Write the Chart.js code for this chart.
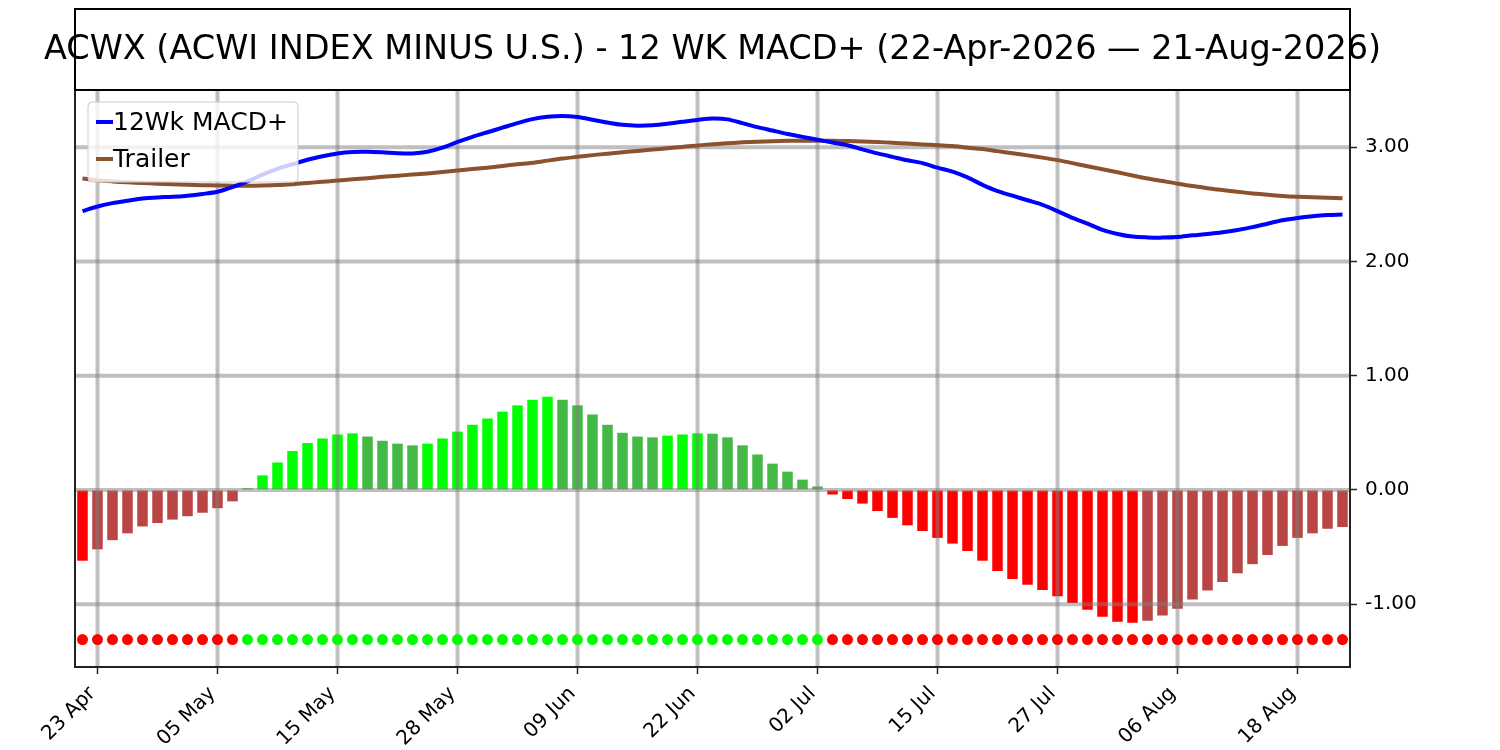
<!DOCTYPE html>
<html>
<head>
<meta charset="utf-8">
<script src="https://cdn.jsdelivr.net/npm/chart.js@4.4.1/dist/chart.umd.min.js"></script>
<style>
  body { margin: 0; background: #fff; }
  #wrap { width: 1500px; height: 750px; }
</style>
</head>
<body>
<div id="wrap"><canvas id="macd-chart" width="1500" height="750"></canvas></div>
<script>
// trading days shown on the chart
const DATES = [
    '22 Apr', '23 Apr', '24 Apr', '27 Apr', '28 Apr', '29 Apr', '30 Apr',
    '01 May', '04 May', '05 May', '06 May', '07 May', '08 May', '11 May', '12 May', '13 May', '14 May', '15 May',
    '18 May', '19 May', '20 May', '21 May', '22 May', '26 May', '27 May', '28 May', '29 May',
    '01 Jun', '02 Jun', '03 Jun', '04 Jun', '05 Jun', '08 Jun', '09 Jun', '10 Jun', '11 Jun', '12 Jun',
    '15 Jun', '16 Jun', '17 Jun', '18 Jun', '22 Jun', '23 Jun', '24 Jun', '25 Jun', '26 Jun', '29 Jun', '30 Jun',
    '01 Jul', '02 Jul', '06 Jul', '07 Jul', '08 Jul', '09 Jul', '10 Jul', '13 Jul', '14 Jul', '15 Jul',
    '16 Jul', '17 Jul', '20 Jul', '21 Jul', '22 Jul', '23 Jul', '24 Jul', '27 Jul', '28 Jul', '29 Jul', '30 Jul', '31 Jul',
    '03 Aug', '04 Aug', '05 Aug', '06 Aug', '07 Aug', '10 Aug', '11 Aug', '12 Aug', '13 Aug', '14 Aug',
    '17 Aug', '18 Aug', '19 Aug', '20 Aug', '21 Aug'
]

const X_TICK_LABELS = ['23 Apr', '05 May', '15 May', '28 May', '09 Jun', '22 Jun', '02 Jul', '15 Jul', '27 Jul', '06 Aug', '18 Aug']
const Y_TICKS = [-1, 0, 1, 2, 3]

const MACD = [
    2.44, 2.48, 2.51, 2.53, 2.55, 2.56, 2.565, 2.575, 2.59, 2.61,
    2.65, 2.70, 2.76, 2.81, 2.85, 2.89, 2.92, 2.945, 2.958, 2.96,
    2.955, 2.947, 2.945, 2.96, 2.995, 3.045, 3.09, 3.13, 3.17, 3.21,
    3.245, 3.265, 3.273, 3.263, 3.24, 3.215, 3.195, 3.188, 3.192, 3.205,
    3.222, 3.238, 3.25, 3.243, 3.21, 3.175, 3.145, 3.115, 3.09, 3.065,
    3.04, 3.017, 2.98, 2.945, 2.915, 2.885, 2.86, 2.82, 2.785, 2.735,
    2.67, 2.615, 2.575, 2.535, 2.495, 2.44, 2.38, 2.33, 2.275, 2.24,
    2.217, 2.21, 2.208, 2.213, 2.228, 2.24, 2.255, 2.275, 2.30, 2.33,
    2.36, 2.38, 2.395, 2.405, 2.41
]

const TRAILER = [
    2.725, 2.71, 2.70, 2.692, 2.686, 2.68, 2.675, 2.67, 2.667, 2.665,
    2.663, 2.662, 2.664, 2.668, 2.676, 2.686, 2.697, 2.707, 2.718, 2.728,
    2.74, 2.75, 2.76, 2.77, 2.782, 2.795, 2.808, 2.82, 2.835, 2.85,
    2.863, 2.882, 2.90, 2.915, 2.93, 2.943, 2.955, 2.967, 2.979, 2.99,
    3.002, 3.015, 3.025, 3.035, 3.042, 3.048, 3.052, 3.055, 3.056, 3.056,
    3.055, 3.053, 3.05, 3.045, 3.038, 3.031, 3.024, 3.016, 3.009, 2.995,
    2.983, 2.965, 2.947, 2.928, 2.908, 2.886, 2.86, 2.832, 2.806, 2.78,
    2.752, 2.726, 2.703, 2.68, 2.66, 2.641, 2.624, 2.609, 2.595, 2.583,
    2.573, 2.566, 2.561, 2.556, 2.552
]

const HIST = [
    -0.62, -0.52, -0.44, -0.38, -0.32, -0.29, -0.26, -0.23, -0.20, -0.16,
    -0.10, 0.015, 0.127, 0.24, 0.34, 0.41, 0.45, 0.485, 0.495, 0.467,
    0.43, 0.405, 0.39, 0.405, 0.45, 0.51, 0.57, 0.625, 0.685, 0.74,
    0.79, 0.815, 0.79, 0.74, 0.66, 0.57, 0.50, 0.467, 0.46, 0.475,
    0.485, 0.495, 0.492, 0.46, 0.39, 0.31, 0.23, 0.16, 0.09, 0.03,
    -0.04, -0.08, -0.12, -0.185, -0.245, -0.31, -0.36, -0.42, -0.47, -0.535,
    -0.62, -0.71, -0.78, -0.83, -0.875, -0.93, -0.99, -1.05, -1.11, -1.155,
    -1.163, -1.145, -1.10, -1.04, -0.96, -0.88, -0.805, -0.73, -0.65, -0.57,
    -0.49, -0.42, -0.38, -0.34, -0.325
]

// row of signal dots under the histogram
const SIGNAL_LEVEL = -1.31
const SIGNAL = DATES.map(() => SIGNAL_LEVEL)

const TITLE = 'ACWX (ACWI INDEX MINUS U.S.) - 12 WK MACD+ (22-Apr-2026 \u2014 21-Aug-2026)'
const FONT = "'DejaVu Sans', 'Liberation Sans', sans-serif"

function barColor(ctx) {
    const i = ctx.dataIndex
    const v = HIST[i]
    const prev = i > 0 ? HIST[i - 1] : 0
    const growing = Math.abs(v) > Math.abs(prev)
    if (v >= 0) return growing ? '#00ff00' : '#45b945'
    return growing ? '#ff0000' : '#b94545'
}

// grid sits above the bars but below the lines and dots
const gridOverBars = {
    id: 'gridOverBars',
    afterDatasetDraw(chart, args) {
        if (args.meta.type !== 'bar') return
        const {ctx, chartArea: a, scales} = chart
        ctx.save()
        ctx.strokeStyle = 'rgba(128,128,128,0.5)'
        ctx.lineWidth = 4
        X_TICK_LABELS.forEach(l => {
            const px = scales.x.getPixelForValue(DATES.indexOf(l))
            ctx.beginPath()
            ctx.moveTo(px, a.top)
            ctx.lineTo(px, a.bottom)
            ctx.stroke()
        })
        Y_TICKS.forEach(v => {
            const py = scales.y.getPixelForValue(v)
            ctx.beginPath()
            ctx.moveTo(a.left, py)
            ctx.lineTo(a.right, py)
            ctx.stroke()
        })
        ctx.restore()
    }
}

const frameAndTitle = {
    id: 'frameAndTitle',
    beforeDraw(chart) {
        const ctx = chart.ctx
        ctx.save()
        ctx.fillStyle = '#fff'
        ctx.fillRect(0, 0, chart.width, chart.height)
        ctx.restore()
    },
    afterDraw(chart) {
        const {ctx, chartArea: a} = chart
        ctx.save()
        // legend
        const lx = 88, ly = 102, lw = 210, lh = 80
        ctx.fillStyle = 'rgba(255,255,255,0.8)'
        ctx.strokeStyle = '#cccccc'
        ctx.lineWidth = 1
        ctx.beginPath()
        ctx.roundRect(lx, ly, lw, lh, 4)
        ctx.fill()
        ctx.stroke()
        const items = [['12Wk MACD+', '#0000ff', 122], ['Trailer', '#8c522d', 159]]
        ctx.font = '25px ' + FONT
        ctx.textBaseline = 'middle'
        ctx.textAlign = 'left'
        items.forEach(([txt, col, y]) => {
            ctx.strokeStyle = col
            ctx.lineWidth = 4
            ctx.beginPath()
            ctx.moveTo(96, y)
            ctx.lineTo(113, y)
            ctx.stroke()
            ctx.fillStyle = '#000'
            ctx.fillText(txt, 113, y + 1)
        })
        // axes frame
        ctx.strokeStyle = '#222'
        ctx.lineWidth = 2
        ctx.strokeRect(a.left, a.top, a.right - a.left, a.bottom - a.top)
        // title box
        ctx.strokeStyle = '#000'
        ctx.strokeRect(a.left, 9, a.right - a.left, a.top - 9)
        ctx.fillStyle = '#000'
        ctx.font = '33.5px ' + FONT
        ctx.textAlign = 'center'
        ctx.textBaseline = 'middle'
        ctx.fillText(TITLE, (a.left + a.right) / 2, 50)
        ctx.restore()
    }
}

Chart.defaults.font.family = FONT
Chart.defaults.color = '#000'

new Chart(document.getElementById('macd-chart'), {
    data: {
        labels: DATES,
        datasets: [
            {
                type: 'line',
                label: '12Wk MACD+',
                data: MACD,
                borderColor: '#0000ff',
                borderWidth: 4,
                pointRadius: 0,
                tension: 0.3,
                order: 1
            },
            {
                type: 'line',
                label: 'Trailer',
                data: TRAILER,
                borderColor: '#8c522d',
                borderWidth: 4,
                pointRadius: 0,
                tension: 0.3,
                order: 2
            },
            {
                type: 'line',
                label: 'Signal',
                data: SIGNAL,
                showLine: false,
                pointRadius: 5.5,
                pointBorderWidth: 0,
                pointBackgroundColor: HIST.map(v => v < 0 ? '#ff0000' : '#00ff00'),
                order: 3
            },
            {
                type: 'bar',
                label: 'Histogram',
                data: HIST,
                backgroundColor: barColor,
                barPercentage: 0.7,
                categoryPercentage: 1,
                order: 4
            }
        ]
    },
    options: {
        responsive: false,
        animation: false,
        devicePixelRatio: 1,
        layout: { padding: { left: 75, top: 90, right: 0, bottom: 0 } },
        plugins: {
            legend: { display: false },
            title: { display: false },
            tooltip: { enabled: false }
        },
        scales: {
            x: {
                type: 'category',
                offset: true,
                afterBuildTicks: s => { s.ticks = X_TICK_LABELS.map(l => ({ value: DATES.indexOf(l) })) },
                afterFit: s => { s.height = 83 },
                grid: { offset: false, drawOnChartArea: false, tickLength: 7, tickColor: '#222', tickWidth: 1.5 },
                border: { display: false },
                ticks: {
                    autoSkip: false,
                    minRotation: 45,
                    maxRotation: 45,
                    padding: 8,
                    labelOffset: -5,
                    font: { size: 20 }
                }
            },
            y: {
                position: 'right',
                min: -1.55,
                max: 3.5,
                afterBuildTicks: s => { s.ticks = Y_TICKS.map(v => ({ value: v })) },
                afterFit: s => { s.width = 150 },
                grid: { drawOnChartArea: false, tickLength: 7, tickColor: '#222', tickWidth: 1.5 },
                border: { display: false },
                ticks: {
                    padding: 8,
                    font: { size: 20 },
                    callback: v => Number(v).toFixed(2)
                }
            }
        }
    },
    plugins: [gridOverBars, frameAndTitle]
})
</script>
</body>
</html>
